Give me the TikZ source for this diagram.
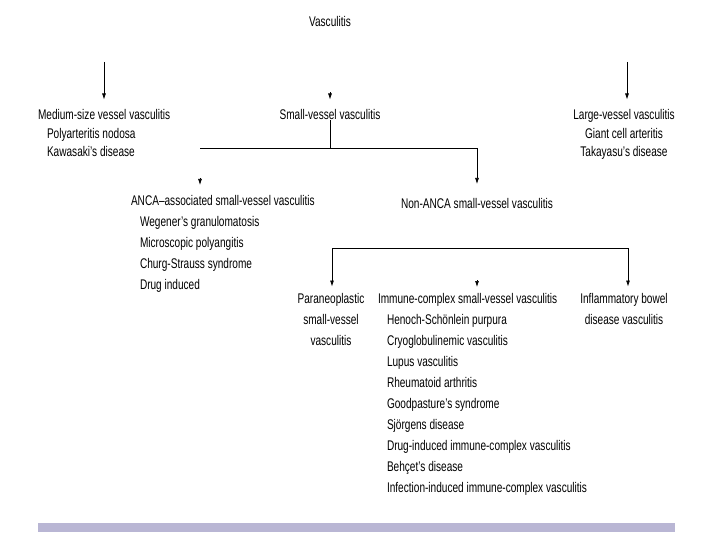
\documentclass[tikz,border=0pt]{standalone}
\usepackage{fontspec}
\setmainfont[FakeStretch=0.72]{Liberation Sans}
\usetikzlibrary{arrows.meta,positioning}
\definecolor{barlilac}{RGB}{185,182,212}
\tikzset{
  box/.style={inner sep=0pt, outer sep=0pt, align=left, anchor=north west},
  cbox/.style={inner sep=0pt, outer sep=0pt, align=center, anchor=north},
  tight/.style={font=\fontsize{14}{18.5}\selectfont},
  loose/.style={font=\fontsize{14}{21}\selectfont},
  arr/.style={-{Latex[length=6pt,width=4pt]}, line width=0.7pt},
  link/.style={line width=0.7pt}
}
\begin{document}
\begin{tikzpicture}[x=1pt,y=-1pt]
  \useasboundingbox (0,0) rectangle (720,540);
  \pgfmathsetmacro{\Ind}{9}
  \pgfmathsetmacro{\Gap}{10}
  % TOP
  \node[cbox, tight] (vasc) at (330,16.5) {Vasculitis};
  \node[box, tight] (medium) at (38,109.5) {Medium-size vessel vasculitis\\
    \hspace*{\Ind pt}Polyarteritis nodosa\\
    \hspace*{\Ind pt}Kawasaki's disease};
  \node[cbox, tight] (small) at (330,109.5) {Small-vessel vasculitis};
  \node[cbox, tight] (large) at (624,109.5) {Large-vessel vasculitis\\
    Giant cell arteritis\\Takayasu's disease};
  \coordinate (mediumIn) at (104,62);
  \coordinate (largeIn) at (627,62);
  \draw[arr] (mediumIn) -- ([yshift=\Gap pt]medium.north -| mediumIn);
  \draw[arr] (largeIn) -- ([yshift=\Gap pt]large.north -| largeIn);
  \draw[arr] ([yshift=\Gap pt+7pt]small.north) -- ([yshift=\Gap pt]small.north);
  % MIDDLE
  \node[box, loose] (anca) at (131,195.5) {ANCA--associated small-vessel vasculitis\\
    \hspace*{\Ind pt}Wegener's granulomatosis\\
    \hspace*{\Ind pt}Microscopic polyangitis\\
    \hspace*{\Ind pt}Churg-Strauss syndrome\\
    \hspace*{\Ind pt}Drug induced};
  \node[cbox, loose] (nonanca) at (477,198) {Non-ANCA small-vessel vasculitis};
  \coordinate (split) at (330,148);
  \coordinate (ancaStub) at (200,148);
  \draw[link] (small.south) -- (split);
  \draw[link] (ancaStub) -- (split);
  \draw[arr] (split) -| ([yshift=\Gap pt+4pt]nonanca.north);
  \draw[arr] (200,178) -- (200,185);
  % BOTTOM
  \node[cbox, loose] (para) at (331,293.5) {Paraneoplastic\\small-vessel\\vasculitis};
  \node[box, loose] (immune) at (378,293.5) {Immune-complex small-vessel vasculitis\\
    \hspace*{\Ind pt}Henoch-Schönlein purpura\\
    \hspace*{\Ind pt}Cryoglobulinemic vasculitis\\
    \hspace*{\Ind pt}Lupus vasculitis\\
    \hspace*{\Ind pt}Rheumatoid arthritis\\
    \hspace*{\Ind pt}Goodpasture's syndrome\\
    \hspace*{\Ind pt}Sjörgens disease\\
    \hspace*{\Ind pt}Drug-induced immune-complex vasculitis\\
    \hspace*{\Ind pt}Behçet's disease\\
    \hspace*{\Ind pt}Infection-induced immune-complex vasculitis};
  \node[cbox, loose] (ibd) at (624,293.5) {Inflammatory bowel\\disease vasculitis};
  \coordinate (fork) at (477,248);
  \draw[arr] (fork) -| ([xshift=1pt,yshift=7pt]para.north);
  \draw[arr] (fork) -| ([xshift=4pt,yshift=7pt]ibd.north);
  \draw[arr] (477,280) -- (477,287);
  % BAR
  \fill[barlilac] (38,523) rectangle (675,532);
\end{tikzpicture}
\end{document}
